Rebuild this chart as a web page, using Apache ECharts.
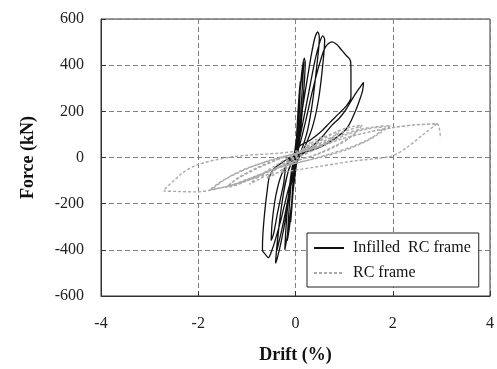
<!DOCTYPE html>
<html>
<head>
<meta charset="utf-8">
<script src="https://cdn.jsdelivr.net/npm/echarts@6/dist/echarts.min.js"></script>
<style>html,body{margin:0;padding:0;background:#fff;}#c{width:497px;height:369px;}</style>
</head>
<body>
<div id="c"></div>
<script>
// Axis ticks
const xTicks = [-4, -2, 0, 2, 4];
const yTicks = [-600, -400, -200, 0, 200, 400, 600];

// Infilled RC frame (drift %, force kN)
const infillDrift = [0,0.03,0.07,0.1,0.08,0.04,0,-0.04,-0.08,-0.1,-0.07,-0.03,0,
 0.05,0.1,0.15,0.17,0.14,0.09,0.03,-0.03,-0.08,-0.13,-0.17,-0.14,-0.09,-0.04,
 0.03,0.08,0.13,0.18,0.2,0.17,0.11,0.05,0,-0.08,-0.16,-0.22,-0.2,-0.15,-0.09,-0.03,
 0.05,0.15,0.25,0.33,0.4,0.46,0.49,0.44,0.35,0.25,0.12,0,-0.1,-0.2,-0.3,-0.38,-0.41,-0.39,-0.33,-0.25,-0.15,-0.05,
 0.05,0.15,0.28,0.4,0.5,0.56,0.6,0.56,0.48,0.36,0.2,0.05,-0.08,-0.2,-0.3,-0.38,-0.36,-0.3,-0.2,-0.08,
 0.05,0.2,0.35,0.5,0.62,0.75,0.85,0.93,1.03,1.13,1.14,1.14,1.14,1.05,0.89,0.7,0.54,0.3,0.07,0,-0.15,-0.3,-0.42,-0.5,-0.56,-0.62,-0.68,-0.67,-0.63,-0.58,-0.54,-0.45,-0.3,-0.1,
 0.1,0.3,0.55,0.75,0.9,1.03,1.2,1.33,1.4,1.38,1.32,1.24,1.03,0.54,-0.13,-0.25,-0.37,-0.45,-0.5,-0.48,-0.4,-0.28,-0.1,0];
const infillForce = [0,120,260,330,200,60,-20,-120,-230,-280,-170,-40,20,
 170,300,380,415,300,140,10,-100,-220,-310,-360,-250,-110,-10,
 100,250,370,430,410,290,130,20,-60,-200,-330,-400,-320,-180,-70,0,
 80,220,350,450,520,544,520,400,240,120,30,-30,-130,-260,-370,-440,-458,-400,-280,-160,-60,0,
 50,150,290,420,500,527,510,400,260,140,50,-10,-100,-230,-330,-400,-340,-230,-100,-20,
 30,150,290,410,480,501,490,470,445,420,380,300,260,225,190,150,115,75,45,-40,-140,-270,-360,-410,-434,-420,-401,-330,-230,-140,-86,-50,-25,0,
 10,40,90,140,170,205,265,305,325,290,250,205,120,48,-8,-120,-240,-330,-360,-280,-160,-70,-10,0];

// RC frame (drift %, force kN)
const rcDrift = [0,0.1,0.2,0.3,0.2,0.1,0,-0.1,-0.2,-0.3,-0.2,-0.1,0,
 0.2,0.4,0.6,0.45,0.25,0,-0.2,-0.4,-0.6,-0.45,-0.25,0,
 0.3,0.6,0.9,0.7,0.4,0.1,-0.2,-0.5,-0.8,-0.95,-0.75,-0.45,-0.1,0,
 0.3,0.7,1.0,1.2,1.37,1.2,0.9,0.5,0.1,-0.3,-0.7,-1.1,-1.3,-1.43,-1.25,-0.95,-0.6,-0.2,0,
 0.4,0.8,1.1,1.35,1.15,0.8,0.4,0,-0.4,-0.8,-1.2,-1.4,-1.2,-0.8,-0.4,0,
 0.4,0.8,1.2,1.6,1.95,1.7,1.4,1.0,0.5,0,-0.5,-1.0,-1.4,-1.77,-1.5,-1.22,-0.9,-0.5,0,
 0.5,1.0,1.5,1.85,1.6,1.2,0.7,0.2,-0.3,-0.8,-1.3,-1.72,-1.45,-1.1,-0.7,-0.2,0,
 0.5,0.89,1.4,1.98,2.4,2.91,2.6,2.3,1.98,1.2,0.54,-0.13,-0.6,-1.0,-1.5,-2.05,-2.4,-2.72,-2.5,-2.32,-2.0,-1.3,-0.27,0,
 0.5,0.89,1.5,2.0,2.5,2.91,2.98];
const rcForce = [0,25,50,65,35,10,-10,-30,-50,-65,-40,-15,5,
 40,75,95,60,25,-10,-40,-70,-90,-60,-25,10,
 50,90,115,75,35,5,-25,-65,-100,-116,-80,-40,5,15,
 45,95,125,135,140,100,60,20,-10,-40,-75,-110,-125,-130,-100,-64,-30,5,18,
 50,95,120,135,90,45,10,-15,-45,-85,-115,-125,-90,-45,-10,18,
 45,85,115,132,138,100,65,30,0,-25,-55,-95,-125,-141,-100,-70,-40,-10,18,
 50,95,125,133,90,50,15,-15,-40,-80,-120,-138,-95,-55,-25,5,15,
 48,77,105,128,140,146,95,45,6,-15,-37,-59,-75,-100,-130,-149,-147,-144,-100,-66,-30,3,20,27,
 45,77,110,130,142,146,84];

const infillData = infillDrift.map((d, i) => [d, infillForce[i]]);
const rcData = rcDrift.map((d, i) => [d, rcForce[i]]);

const serif = "'Liberation Serif', 'Times New Roman', serif";
const chart = echarts.init(document.getElementById('c'), null, {renderer: 'canvas'});
const gridLine = {show: true, lineStyle: {color: '#808080', type: [5, 3], width: 1}};
chart.setOption({
  animation: false,
  backgroundColor: '#fff',
  grid: {left: 101, right: 7, top: 19, bottom: 71, show: true, borderColor: '#333', borderWidth: 1, backgroundColor: 'transparent'},
  xAxis: {
    type: 'value', min: xTicks[0], max: xTicks[xTicks.length - 1], interval: 2,
    name: 'Drift (%)', nameLocation: 'middle', nameGap: 50,
    nameTextStyle: {fontFamily: serif, fontWeight: 'bold', fontSize: 18, color: '#111'},
    axisLine: {onZero: false, lineStyle: {color: '#333'}},
    axisTick: {inside: true, length: 5, lineStyle: {color: '#333'}},
    axisLabel: {fontFamily: serif, fontSize: 16, color: '#222', margin: 20},
    splitLine: gridLine
  },
  yAxis: {
    type: 'value', min: yTicks[0], max: yTicks[yTicks.length - 1], interval: 200,
    name: 'Force (kN)', nameLocation: 'middle', nameGap: 64,
    nameTextStyle: {fontFamily: serif, fontWeight: 'bold', fontSize: 18, color: '#111'},
    axisLine: {onZero: false, lineStyle: {color: '#333'}},
    axisTick: {inside: true, length: 5, lineStyle: {color: '#333'}},
    axisLabel: {fontFamily: serif, fontSize: 16, color: '#222', margin: 17},
    splitLine: gridLine
  },
  legend: {
    left: 307, top: 233, orient: 'vertical',
    backgroundColor: '#fff', borderColor: '#222', borderWidth: 1, borderRadius: 0,
    padding: [7, 8, 6, 6], itemWidth: 30, itemHeight: 12, itemGap: 9,
    itemStyle: {color: 'transparent', borderColor: 'transparent', borderWidth: 0, opacity: 0},
    textStyle: {fontFamily: serif, fontSize: 16, color: '#111', padding: [0, 0, 0, 4]},
    data: ['Infilled  RC frame', 'RC frame']
  },
  series: [
    {name: 'Infilled  RC frame', type: 'line', data: infillData, symbol: 'none', smooth: 0.3,
     lineStyle: {color: '#111', width: 1.3}, itemStyle: {color: '#111'}, z: 2},
    {name: 'RC frame', type: 'line', data: rcData, symbol: 'none', smooth: 0.3,
     lineStyle: {color: '#aaa', width: 1.4, type: [3, 2]}, itemStyle: {color: '#aaa'}, z: 3}
  ]
});
</script>
</body>
</html>
